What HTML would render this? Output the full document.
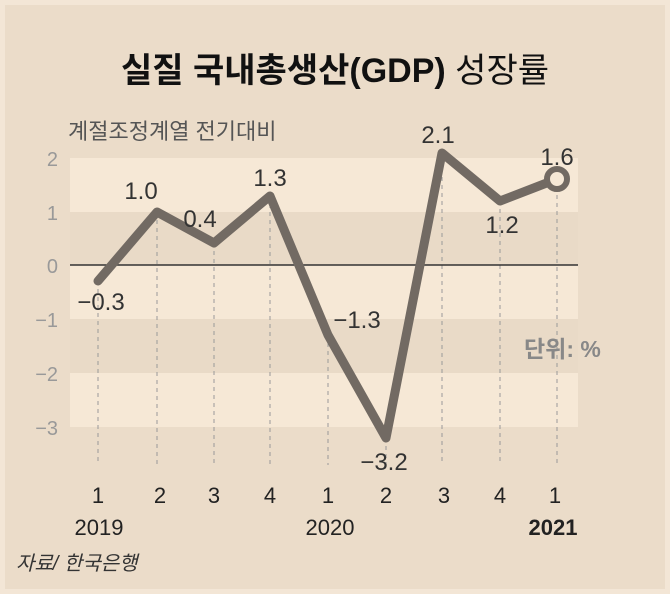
<!DOCTYPE html>
<html><head><meta charset="utf-8"><style>
body{margin:0;background:#f3e6d6;}
svg{display:block}
text{font-family:"Liberation Sans","Noto Sans CJK KR",sans-serif}
</style></head><body>
<svg width="670" height="594" viewBox="0 0 670 594">
<rect x="0" y="0" width="670" height="594" fill="#f3e6d6"/>
<rect x="5" y="5" width="660" height="584" fill="#ebdcc9"/>
<rect x="70" y="158" width="508" height="54" fill="#f6e8d6"/>
<rect x="70" y="212" width="508" height="53" fill="#e9dac7"/>
<rect x="70" y="265" width="508" height="54" fill="#f6e8d6"/>
<rect x="70" y="319" width="508" height="54" fill="#e9dac7"/>
<rect x="70" y="373" width="508" height="54" fill="#f6e8d6"/>
<text x="335" y="82" font-size="34" font-weight="bold" text-anchor="middle" fill="#111">실질 국내총생산(GDP) <tspan font-weight="normal">성장률</tspan></text>
<text x="68" y="139" font-size="22" fill="#555">계절조정계열 전기대비</text>
<g font-size="20" fill="#999" text-anchor="end">
<text x="58" y="166">2</text><text x="58" y="220">1</text><text x="58" y="273">0</text>
<text x="58" y="327">−1</text><text x="58" y="381">−2</text><text x="58" y="435">−3</text>
</g>
<g stroke="#999" stroke-width="1" stroke-dasharray="4,4">
<line x1="98" y1="281" x2="98" y2="465"/><line x1="157" y1="212" x2="157" y2="465"/>
<line x1="214" y1="243" x2="214" y2="465"/><line x1="270" y1="196" x2="270" y2="465"/>
<line x1="328" y1="335" x2="328" y2="465"/><line x1="386" y1="438" x2="386" y2="465"/>
<line x1="442" y1="153" x2="442" y2="465"/><line x1="500" y1="201" x2="500" y2="465"/>
<line x1="557" y1="179" x2="557" y2="465"/>
</g>
<line x1="70" y1="265" x2="578" y2="265" stroke="#333" stroke-width="1.5"/>
<polyline points="98,281 157,212 214,243 270,196 328,335 386,438 442,153 500,201 557,179" fill="none" stroke="#726a63" stroke-width="9" stroke-linejoin="round" stroke-linecap="round"/>
<circle cx="557" cy="179" r="10" fill="#f6e8d6" stroke="#726a63" stroke-width="6"/>
<g font-size="24" fill="#333" text-anchor="middle">
<text x="101" y="310">−0.3</text><text x="141" y="199">1.0</text><text x="200" y="227">0.4</text>
<text x="270" y="186">1.3</text><text x="357" y="328">−1.3</text><text x="384" y="470">−3.2</text>
<text x="438" y="143">2.1</text><text x="502" y="233">1.2</text><text x="557" y="165">1.6</text>
</g>
<text x="524" y="357" font-size="23" font-weight="bold" fill="#888">단위: %</text>
<g font-size="22" fill="#222" text-anchor="middle">
<text x="98" y="503">1</text><text x="160" y="503">2</text><text x="214" y="503">3</text>
<text x="270" y="503">4</text><text x="328" y="503">1</text><text x="386" y="503">2</text>
<text x="444" y="503">3</text><text x="500" y="503">4</text><text x="555" y="503">1</text>
<text x="99" y="535">2019</text><text x="330" y="535">2020</text>
<text x="553" y="535" font-weight="bold">2021</text>
</g>
<text x="16" y="570" font-size="20" font-style="italic" fill="#333">자료/ 한국은행</text>
</svg>
</body></html>
